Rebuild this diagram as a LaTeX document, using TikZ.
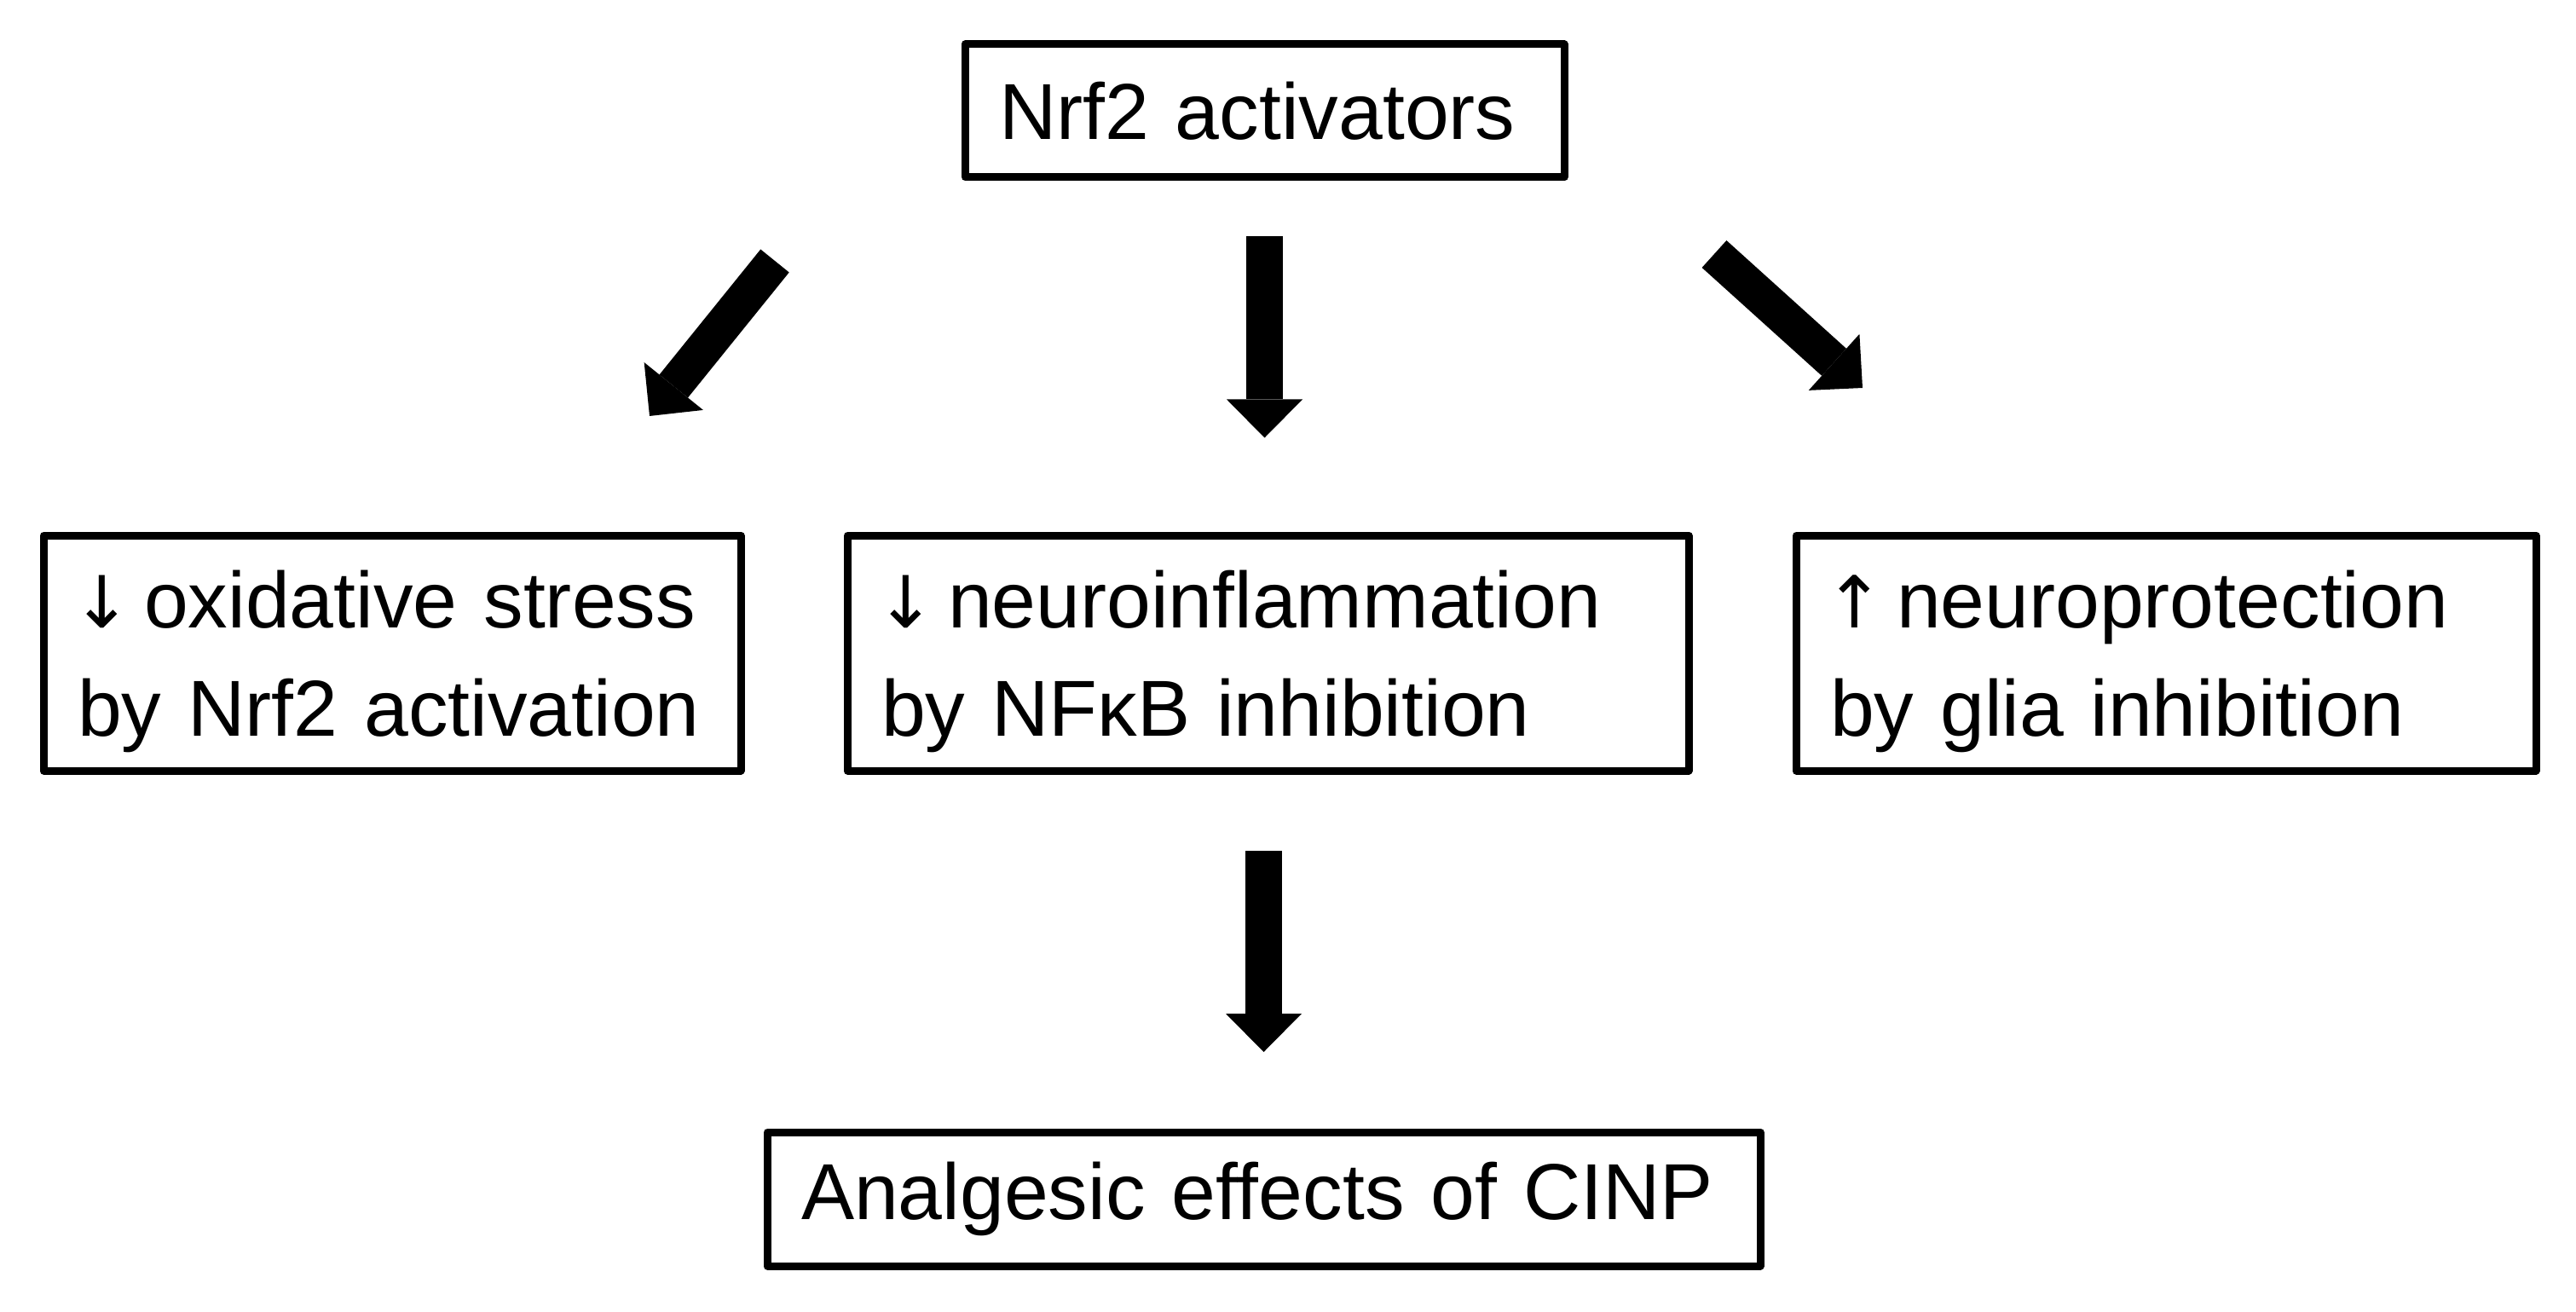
\documentclass[tikz,border=0pt]{standalone}
\usepackage{fontspec}
\setmainfont{Liberation Sans}
\newfontfamily\arrowfont{DejaVu Sans}
\usepackage{tikz}
\usetikzlibrary{positioning, arrows.meta, calc}
\newcommand{\dn}{\makebox[0.78cm][l]{\kern-0.07cm\arrowfont\fontsize{24}{36}\selectfont ↓}}
\newcommand{\up}{\makebox[0.78cm][l]{\kern-0.07cm\arrowfont\fontsize{24}{36}\selectfont ↑}}

\begin{document}
\begin{tikzpicture}[
  font=\fontsize{26.5}{36}\selectfont,
  box/.style={rectangle, draw=black, line width=0.09cm, line join=round, align=left,
              inner xsep=0.4cm, inner ysep=0pt},
  twoline/.style={box, text width=#1, minimum height=2.76cm, text depth=36pt},
  fat/.style={-{Triangle[width=0.89cm, length=0.45cm, line width=0pt]}, line width=0.43cm},
]
\useasboundingbox (0,0) rectangle (30.22,-15.39);

% ===== Top: activators ======================================================
\node[box, text width=6.23cm, minimum height=1.56cm] (nrf) at (14.835,-1.30) {Nrf2 activators};

% ===== Middle row: three effects ============================================
\node[twoline=7.38cm] (oxid) at (4.60,-7.66)
  {\dn oxidative stress\\by Nrf2 activation};
\node[twoline=9.07cm] (neuro) at (14.875,-7.66)
  {\dn neuroinflammation\\by NFκB inhibition};
\node[twoline=7.88cm] (prot) at (25.41,-7.66)
  {\up neuroprotection\\by glia inhibition};

% ===== Bottom: outcome ======================================================
\node[box, text width=10.85cm, minimum height=1.57cm] (cinp) at (14.825,-14.065)
  {Analgesic effects of CINP};

% ===== arrows ===============================================================
\coordinate (lfrom) at (9.09,-3.06);
\coordinate (lto) at (7.62,-4.88);
\coordinate (rfrom) at (20.11,-2.98);
\coordinate (rto) at (21.85,-4.55);
\draw[fat] (lfrom) -- (lto);
\draw[fat, shorten <=0.65cm, shorten >=1.1cm] (nrf.south) -- (nrf.south |- neuro.north);
\draw[fat] (rfrom) -- (rto);
\draw[fat, shorten <=0.895cm, shorten >=0.895cm] (cinp.north |- neuro.south) -- (cinp.north);

\end{tikzpicture}
\end{document}
